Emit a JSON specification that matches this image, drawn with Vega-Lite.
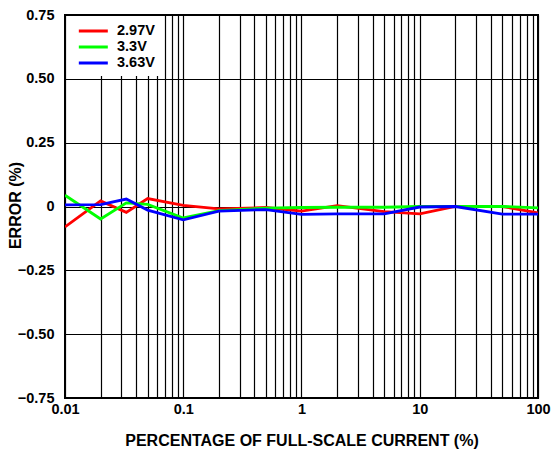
{
  "$schema": "https://vega.github.io/schema/vega-lite/v6.json",
  "width": 473,
  "height": 383,
  "autosize": "none",
  "padding": {"left": 65, "top": 15, "right": 16, "bottom": 52},
  "background": "white",
  "config": {
    "font": "Liberation Sans",
    "view": {"stroke": "black", "strokeWidth": 2},
    "axis": {
      "labelFont": "Liberation Sans",
      "labelFontWeight": "bold",
      "labelFontSize": 14.5,
      "labelColor": "black",
      "titleFont": "Liberation Sans",
      "titleFontWeight": "bold",
      "titleFontSize": 16,
      "titleColor": "black",
      "grid": true,
      "gridColor": "black",
      "gridOpacity": 1,
      "gridWidth": 1.2,
      "ticks": false,
      "domain": false
    }
  },
  "data": {
    "values": [
      {"x": 0.01, "s": "2.97V", "y": -0.08},
      {"x": 0.02, "s": "2.97V", "y": 0.022},
      {"x": 0.033, "s": "2.97V", "y": -0.023},
      {"x": 0.05, "s": "2.97V", "y": 0.031},
      {"x": 0.1, "s": "2.97V", "y": 0.004},
      {"x": 0.2, "s": "2.97V", "y": -0.009},
      {"x": 0.5, "s": "2.97V", "y": -0.004},
      {"x": 1, "s": "2.97V", "y": -0.018},
      {"x": 2, "s": "2.97V", "y": 0.003},
      {"x": 5, "s": "2.97V", "y": -0.02},
      {"x": 10, "s": "2.97V", "y": -0.029},
      {"x": 20, "s": "2.97V", "y": 0.0},
      {"x": 50, "s": "2.97V", "y": 0.0},
      {"x": 100, "s": "2.97V", "y": -0.025},
      {"x": 0.01, "s": "3.3V", "y": 0.044},
      {"x": 0.02, "s": "3.3V", "y": -0.049},
      {"x": 0.033, "s": "3.3V", "y": 0.014},
      {"x": 0.05, "s": "3.3V", "y": 0.008},
      {"x": 0.1, "s": "3.3V", "y": -0.045},
      {"x": 0.2, "s": "3.3V", "y": -0.016},
      {"x": 0.5, "s": "3.3V", "y": -0.006},
      {"x": 1, "s": "3.3V", "y": -0.004},
      {"x": 2, "s": "3.3V", "y": -0.003},
      {"x": 5, "s": "3.3V", "y": -0.003},
      {"x": 10, "s": "3.3V", "y": 0.0},
      {"x": 20, "s": "3.3V", "y": 0.0},
      {"x": 50, "s": "3.3V", "y": 0.0},
      {"x": 100, "s": "3.3V", "y": -0.005},
      {"x": 0.01, "s": "3.63V", "y": 0.006},
      {"x": 0.02, "s": "3.63V", "y": 0.007},
      {"x": 0.033, "s": "3.63V", "y": 0.029},
      {"x": 0.05, "s": "3.63V", "y": -0.014},
      {"x": 0.1, "s": "3.63V", "y": -0.052},
      {"x": 0.2, "s": "3.63V", "y": -0.018},
      {"x": 0.5, "s": "3.63V", "y": -0.012},
      {"x": 1, "s": "3.63V", "y": -0.031},
      {"x": 2, "s": "3.63V", "y": -0.029},
      {"x": 5, "s": "3.63V", "y": -0.029},
      {"x": 10, "s": "3.63V", "y": -0.002},
      {"x": 20, "s": "3.63V", "y": 0.0},
      {"x": 50, "s": "3.63V", "y": -0.03},
      {"x": 100, "s": "3.63V", "y": -0.03}
    ]
  },
  "mark": {"type": "line", "strokeWidth": 2.8, "clip": true},
  "encoding": {
    "x": {
      "field": "x",
      "type": "quantitative",
      "scale": {"type": "log", "domain": [0.01, 100], "nice": false},
      "axis": {
        "title": "PERCENTAGE OF FULL-SCALE CURRENT (%)",
        "values": [0.01, 0.02, 0.03, 0.04, 0.05, 0.06, 0.07, 0.08, 0.09, 0.1, 0.2, 0.3, 0.4, 0.5, 0.6, 0.7, 0.8, 0.9, 1, 2, 3, 4, 5, 6, 7, 8, 9, 10, 20, 30, 40, 50, 60, 70, 80, 90, 100],
        "labelExpr": "datum.value == 0.01 ? '0.01' : datum.value == 0.1 ? '0.1' : datum.value == 1 ? '1' : datum.value == 10 ? '10' : datum.value == 100 ? '100' : ''",
        "labelOverlap": false,
        "labelFlush": false,
        "labelPadding": 4,
        "titleY": 42,
        "titleBaseline": "middle"
      }
    },
    "y": {
      "field": "y",
      "type": "quantitative",
      "scale": {"domain": [-0.75, 0.75], "nice": false},
      "axis": {
        "title": "ERROR (%)",
        "values": [-0.75, -0.5, -0.25, 0, 0.25, 0.5, 0.75],
        "labelExpr": "datum.value == 0 ? '0' : replace(format(datum.value, '.2f'), '-', '–')",
        "labelPadding": 11,
        "titleX": -50,
        "titleY": 190,
        "titleBaseline": "middle"
      }
    },
    "color": {
      "field": "s",
      "type": "nominal",
      "scale": {"domain": ["2.97V", "3.3V", "3.63V"], "range": ["#ff0000", "#00ff00", "#0000ff"]},
      "legend": {
        "title": null,
        "orient": "none",
        "legendX": 2,
        "legendY": 1,
        "fillColor": "white",
        "padding": 6,
        "symbolType": "M-0.45,0L3.65,0",
        "symbolSize": 200,
        "symbolStrokeWidth": 3,
        "labelOffset": 26,
        "labelFont": "Liberation Sans",
        "labelFontWeight": "bold",
        "labelFontSize": 14.5,
        "labelColor": "black",
        "rowPadding": 0
      }
    }
  }
}
